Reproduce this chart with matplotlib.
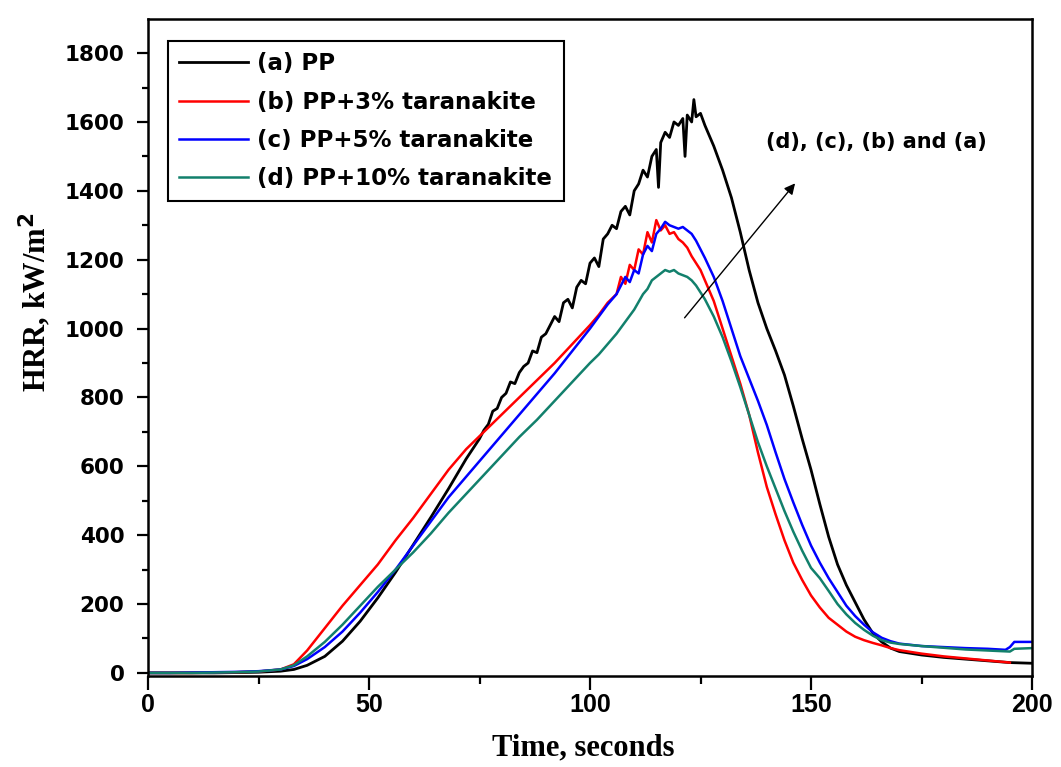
import matplotlib
matplotlib.use("Agg")
import matplotlib.pyplot as plt
from matplotlib.ticker import MultipleLocator

# (a) PP
t_a = [0, 5, 10, 15, 20, 25, 30, 33, 36, 40, 44, 48, 52, 56, 60, 64, 68, 72,
       75, 76, 77, 78, 79, 80, 81, 82, 83, 84, 85, 86, 87, 88, 89, 90, 91, 92, 93,
       94, 95, 96, 97, 98, 99, 100, 101, 102, 103, 104, 105, 106, 107, 108, 109,
       110, 111, 112, 113, 114, 115, 115.5, 116, 117, 118, 119, 120, 121, 121.5,
       122, 123, 123.5, 124, 125, 126,
       128, 130, 132, 134, 136, 138, 140, 142, 144, 146, 148, 150, 152, 154, 156,
       158, 160, 162, 164, 166, 168, 170, 175, 180, 185, 190, 195, 200]
v_a = [0, 0, 0, 0, 1, 2, 5, 10, 22, 48, 92, 150, 218, 292, 372, 452, 535, 622,
       680, 705, 722, 760, 768, 800, 812, 845, 840, 872, 890, 900, 935, 930, 975,
       985, 1010, 1035, 1020, 1075, 1085, 1060, 1120, 1140, 1130, 1190, 1205,
       1180, 1260, 1275, 1300, 1290, 1340, 1355, 1330, 1400, 1420, 1460, 1440,
       1500, 1520, 1410, 1540, 1570, 1555, 1600, 1590, 1610, 1500, 1620, 1600,
       1665, 1615, 1625, 1590,
       1530, 1460, 1380, 1280, 1170, 1075, 1000, 935, 865, 775, 680, 590, 490,
       395, 315, 255, 205, 155, 115, 90, 72, 62, 52, 45, 40, 35, 30, 28]

# (b) PP+3% taranakite
t_b = [0, 5, 10, 15, 20, 25, 30, 33, 36, 40, 44, 48, 52, 56, 60, 64, 68, 72, 76,
       80, 84, 88, 92, 96, 100, 102, 104, 106, 107, 108, 109, 110, 111, 112, 113,
       114, 115, 116, 117, 118, 119, 120, 121, 122, 123, 124, 125, 126, 128, 130,
       132, 134, 136, 138, 140, 142, 144, 146, 148, 150, 152, 154, 156, 158, 160,
       162, 164, 166, 168, 170, 175, 180, 185, 190, 195]
v_b = [0, 0, 0, 1, 2, 4, 10, 25, 65, 130, 195, 255, 315, 385, 450, 520, 590, 650,
       700, 750, 800, 850, 900, 955, 1010, 1040, 1075, 1100, 1150, 1130, 1185,
       1170, 1230, 1215, 1280, 1250, 1315, 1285, 1300, 1275, 1280, 1260, 1250,
       1235, 1210, 1190, 1170, 1140, 1080, 1000, 920, 840, 750, 640, 540, 460,
       385, 320, 270, 225, 190, 160, 140, 120, 105, 95, 87, 80, 72, 66, 56, 48,
       42, 36, 30]

# (c) PP+5% taranakite
t_c = [0, 5, 10, 15, 20, 25, 30, 33, 36, 40, 44, 48, 52, 56, 60, 64, 68, 72, 76,
       80, 84, 88, 92, 96, 100, 102, 104, 106, 108, 109, 110, 111, 112, 113, 114,
       115, 116, 117, 118, 119, 120, 121, 122, 123, 124, 125, 126, 128, 130, 132,
       134, 136, 138, 140, 142, 144, 146, 148, 150, 152, 154, 156, 158, 160, 162,
       164, 166, 168, 170, 175, 180, 185, 190, 194, 195, 196, 200]
v_c = [0, 0, 1, 2, 3, 5, 10, 20, 40, 75, 120, 175, 235, 300, 370, 440, 510, 570,
       630, 690, 750, 810, 870, 935, 1000, 1035, 1070, 1100, 1150, 1135, 1170,
       1160, 1215, 1240, 1225, 1275, 1290, 1310, 1300, 1295, 1290, 1295, 1285,
       1275, 1255, 1230, 1205, 1150, 1080, 1000, 920, 855, 790, 720, 640, 563,
       495, 430, 370, 320, 275, 235, 195, 165, 140, 118, 102, 92, 85, 78, 75, 72,
       70, 67, 75, 90, 90]

# (d) PP+10% taranakite
t_d = [0, 5, 10, 15, 20, 25, 30, 33, 36, 40, 44, 48, 52, 56, 60, 64, 68, 72, 76,
       80, 84, 88, 92, 96, 100, 102, 104, 106, 108, 110, 112, 113, 114, 115, 116,
       117, 118, 119, 120, 121, 122, 123, 124, 125, 126, 128, 130, 132, 134, 136,
       138, 140, 142, 144, 146, 148, 150, 152, 154, 156, 158, 160, 162, 164, 166,
       168, 170, 175, 180, 185, 190, 195, 196, 200]
v_d = [0, 0, 0, 1, 2, 4, 10, 22, 48, 90, 140, 195, 250, 300, 350, 405, 465, 520,
       575, 630, 685, 735, 790, 845, 900, 925, 955, 985, 1020, 1055, 1100, 1115,
       1140, 1150, 1160, 1170, 1165, 1170, 1160, 1155, 1150, 1140, 1125, 1105,
       1085, 1035, 975, 905, 830, 750, 670, 600, 535, 470, 410, 355, 305, 275,
       238, 200, 170, 145, 125, 108, 95, 88, 84, 78, 73, 68, 65, 62, 70, 72]

labels = ["(a) PP", "(b) PP+3% taranakite", "(c) PP+5% taranakite",
          "(d) PP+10% taranakite"]
colors = ["black", "#ff0000", "#0000ff", "#12806c"]

fig = plt.figure(figsize=(10.61, 7.67), dpi=100)
ax = fig.add_axes([148 / 1061, 91 / 767, 884 / 1061, 657 / 767])

ax.plot(t_a, v_a, color=colors[0], lw=2.0, label=labels[0])
ax.plot(t_b, v_b, color=colors[1], lw=1.8, label=labels[1])
ax.plot(t_c, v_c, color=colors[2], lw=1.8, label=labels[2])
ax.plot(t_d, v_d, color=colors[3], lw=1.8, label=labels[3])

ax.set_xlim(0, 200)
ax.set_ylim(-9, 1899)
ax.xaxis.set_major_locator(MultipleLocator(50))
ax.xaxis.set_minor_locator(MultipleLocator(25))
ax.yaxis.set_major_locator(MultipleLocator(200))
ax.yaxis.set_minor_locator(MultipleLocator(100))

for s in ax.spines.values():
    s.set_linewidth(1.8)

ax.tick_params(axis="x", which="major", direction="out", length=10, width=1.6, pad=2)
ax.tick_params(axis="x", which="minor", direction="out", length=6, width=1.6)
ax.tick_params(axis="y", which="major", direction="out", length=8, width=1.6, pad=9)
ax.tick_params(axis="y", which="minor", direction="out", length=4, width=1.6)

for lab in ax.get_yticklabels():
    lab.set_fontfamily("DejaVu Sans")
    lab.set_fontweight("bold")
    lab.set_fontsize(15.5)
for lab in ax.get_xticklabels():
    lab.set_fontfamily(["Liberation Sans Narrow", "Liberation Sans"])
    lab.set_fontweight("bold")
    lab.set_fontsize(18)

ax.set_xlabel("Time, seconds", fontfamily="Liberation Serif", fontweight="bold",
              fontsize=22, va="center")
ax.set_ylabel("HRR, kW/m$^\\mathbf{2}$", fontfamily="Liberation Serif",
              fontweight="bold", fontsize=22, va="center")
ax.xaxis.set_label_coords(0.492, -0.11)
ax.yaxis.set_label_coords(-0.128, 0.569)

leg = ax.legend(loc="upper left", bbox_to_anchor=(0.0226, 0.9665), borderaxespad=0,
                fancybox=False, framealpha=1, edgecolor="black", handlelength=3.0,
                handletextpad=0.4, labelspacing=0.66, borderpad=0.5,
                prop={"family": "DejaVu Sans", "weight": "bold", "size": 16.5})
leg.get_frame().set_linewidth(1.5)

ax.annotate("", xy=(146.8, 1428), xytext=(121.0, 1025),
            arrowprops=dict(arrowstyle="-|>", lw=1.0, color="black",
                            mutation_scale=16))
ax.text(164.9, 1542, "(d), (c), (b) and (a)", ha="center", va="center",
        fontfamily="DejaVu Sans", fontweight="bold", fontsize=15)

fig.savefig("out.png", dpi=100)
